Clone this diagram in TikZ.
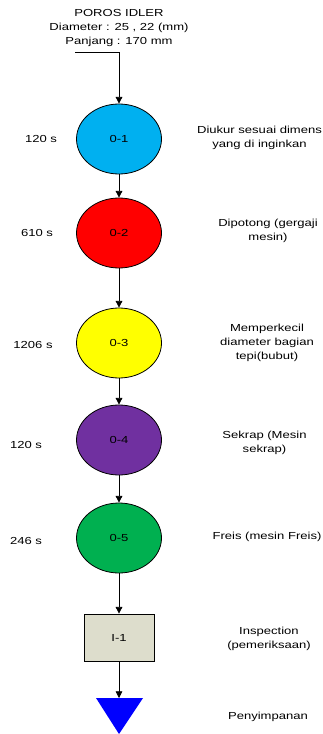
\documentclass[tikz,border=0pt]{standalone}
\usepackage{fontspec}
\setmainfont[FakeStretch=1.28]{Liberation Sans}
\usetikzlibrary{arrows.meta, shapes.geometric}

\definecolor{opcyan}{HTML}{00B0F0}
\definecolor{opred}{HTML}{FF0000}
\definecolor{opyellow}{HTML}{FFFF00}
\definecolor{oppurple}{HTML}{7030A0}
\definecolor{opgreen}{HTML}{00B050}
\definecolor{inspgray}{HTML}{DDDDCC}
\definecolor{storeblue}{HTML}{0000FF}

\begin{document}
\begin{tikzpicture}[x=0.75pt, y=-0.75pt,
  every node/.style={font=\fontsize{7.65}{10.5}\selectfont},
  opnode/.style={ellipse, draw, line width=0.6pt, minimum width=63.75pt, minimum height=52.5pt, inner sep=0pt},
  inspnode/.style={rectangle, draw, line width=0.6pt, fill=inspgray, minimum width=52.5pt, minimum height=35.25pt, inner sep=0pt},
  note/.style={align=center},
  flow/.style={line width=0.6pt, -{Triangle[length=5pt, width=5pt]}}]
\useasboundingbox (0,0) rectangle (323,734);

% ============= material entering the line =============
\node[note] (bahan) at (119,28) {POROS IDLER\\Diameter : 25 , 22 (mm)\\Panjang : 170 mm};
\coordinate (masuk) at (75,52);

% ============= operations (ellipses) =============
\node[opnode, fill=opcyan]   (op1) at (119,139) {0-1};
\node[opnode, fill=opred]    (op2) at (119,233) {0-2};
\node[opnode, fill=opyellow] (op3) at (119,343) {0-3};
\node[opnode, fill=oppurple] (op4) at (119,440) {0-4};
\node[opnode, fill=opgreen]  (op5) at (119,538) {0-5};

% --- inspection box ---
\node[inspnode] (insp1) at (119,637.5) {I-1};

% --- storage: blue triangle, apex down ---
\coordinate (simpan) at (119,698);
\fill[storeblue] (96,698) -- (143,698) -- (119,734) -- cycle;

% ============= times (left) =============
\node (t1) at (41,139) {120 s};
\node (t2) at (37,233) {610 s};
\node (t3) at (33,345) {1206 s};
\node (t4) at (26,445) {120 s};
\node (t5) at (26,541) {246 s};

% ============= descriptions (right) =============
\node[note] (d1) at (259.5,138) {Diukur sesuai dimens\\yang di inginkan};
\node[note] (d2) at (268,231) {Dipotong (gergaji\\mesin)};
\node[note] (d3) at (267,343) {Memperkecil\\diameter bagian\\tepi(bubut)};
\node[note] (d4) at (264.5,443) {Sekrap (Mesin\\sekrap)};
\node[note] (d5) at (267,537) {Freis (mesin Freis)};
\node[note] (d6) at (269,639) {Inspection\\(pemeriksaan)};
\node[note] (d7) at (268,717) {Penyimpanan};

% ============= flow arrows =============
\draw[flow] (masuk) -| (op1.north);
\draw[flow] (op1) -- (op2);
\draw[flow] (op2) -- (op3);
\draw[flow] (op3) -- (op4);
\draw[flow] (op4) -- (op5);
\draw[flow] (op5) -- (insp1);
\draw[flow] (insp1) -- (simpan);
\end{tikzpicture}
\end{document}
